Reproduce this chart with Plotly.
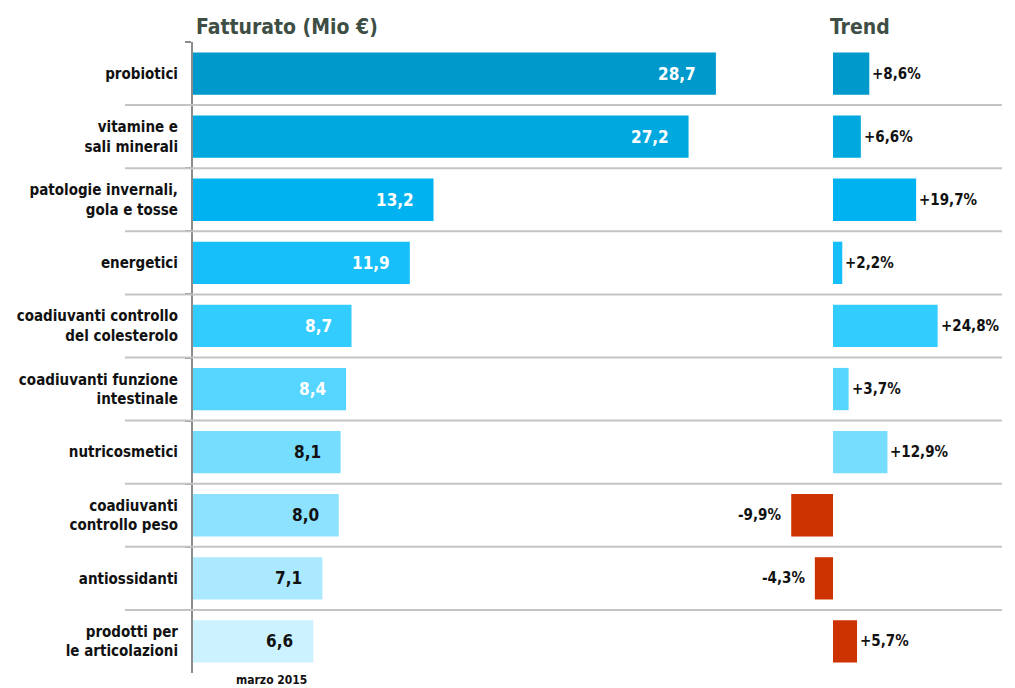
import plotly.graph_objects as go

categories = [
    "probiotici",
    "vitamine e<br>sali minerali",
    "patologie invernali,<br>gola e tosse",
    "energetici",
    "coadiuvanti controllo<br>del colesterolo",
    "coadiuvanti funzione<br>intestinale",
    "nutricosmetici",
    "coadiuvanti<br>controllo peso",
    "antiossidanti",
    "prodotti per<br>le articolazioni",
]
fatturato = [28.7, 27.2, 13.2, 11.9, 8.7, 8.4, 8.1, 8.0, 7.1, 6.6]
trend = [8.6, 6.6, 19.7, 2.2, 24.8, 3.7, 12.9, -9.9, -4.3, 5.7]

barColors = ['#0099CC', '#00A8E0', '#00B2F0', '#17BFFA', '#33CCFF',
             '#55D5FF', '#77DDFF', '#8CE2FF', '#AAE9FF', '#CCF2FF']
redColor = '#CC3300'
trendColors = barColors[:7] + [redColor] * 3
labelColors = ['white'] * 6 + ['#111111'] * 4

W, H = 1015, 688
OFF = 8  # page body margin
fontFam = "DejaVu Sans Condensed, Liberation Sans Narrow, Liberation Sans"
titleColor = '#3E4E44'

def px_x(p):
    return (p - OFF) / W

def px_y(p):
    return 1 - (p - OFF) / H

def fmt(v):
    return f"{v:.1f}".replace(".", ",")

def fmt_pct(v):
    return f"{v:+.1f}%".replace(".", ",")

fig = go.Figure()

fig.add_trace(go.Bar(
    y=categories, x=fatturato, orientation='h',
    marker=dict(color=barColors, line=dict(width=0)),
    width=0.67, xaxis='x', yaxis='y', hoverinfo='skip'
))
fig.add_trace(go.Bar(
    y=categories, x=trend, orientation='h',
    marker=dict(color=trendColors, line=dict(width=0)),
    width=0.67, xaxis='x2', yaxis='y', hoverinfo='skip'
))

# value labels inside the left bars
for cat, v, c in zip(categories, fatturato, labelColors):
    fig.add_annotation(x=v, y=cat, xref='x', yref='y', text=fmt(v),
                       showarrow=False, xanchor='right', xshift=-18,
                       font=dict(family=fontFam, size=17, color=c, weight='bold'))

# trend labels
for cat, v in zip(categories, trend):
    if v >= 0:
        fig.add_annotation(x=v, y=cat, xref='x2', yref='y', text=fmt_pct(v),
                           showarrow=False, xanchor='left', xshift=1,
                           font=dict(family=fontFam, size=15, color='#111111', weight='bold'))
    else:
        fig.add_annotation(x=v, y=cat, xref='x2', yref='y', text=fmt_pct(v),
                           showarrow=False, xanchor='right', xshift=-7,
                           font=dict(family=fontFam, size=15, color='#111111', weight='bold'))

yTop = px_y(42)
yBot = px_y(673)
n = len(categories)

# row separators
for i in range(1, n):
    yy = yTop - i * (yTop - yBot) / n
    fig.add_shape(type='line', xref='paper', yref='paper',
                  x0=px_x(125), x1=px_x(1002), y0=yy, y1=yy,
                  line=dict(color='#C4C4C4', width=2), layer='above')

fig.add_annotation(x=px_x(194), y=px_y(27), xref='paper', yref='paper',
                   text="Fatturato (Mio €)", showarrow=False,
                   xanchor='left', yanchor='middle',
                   font=dict(family=fontFam, size=21, color=titleColor, weight='bold'))
fig.add_annotation(x=px_x(828), y=px_y(27), xref='paper', yref='paper',
                   text="Trend", showarrow=False,
                   xanchor='left', yanchor='middle',
                   font=dict(family=fontFam, size=21, color=titleColor, weight='bold'))
fig.add_annotation(x=px_x(271), y=px_y(680), xref='paper', yref='paper',
                   text="marzo 2015", showarrow=False,
                   xanchor='center', yanchor='middle',
                   font=dict(family=fontFam, size=12, color='#111111', weight='bold'))

pxLeft = 18.22
pxTrend = 4.22
zeroTrend = 833
x1dom = [193, 790]
x2dom = [760, 1005]

fig.update_layout(
    width=W, height=H,
    margin=dict(l=0, r=0, t=0, b=0),
    plot_bgcolor='rgba(0,0,0,0)', paper_bgcolor='white',
    showlegend=False, barmode='overlay',
    xaxis=dict(domain=[px_x(x1dom[0]), px_x(x1dom[1])],
               range=[0, (x1dom[1] - x1dom[0]) / pxLeft],
               visible=False, fixedrange=True, automargin=False),
    xaxis2=dict(domain=[px_x(x2dom[0]), px_x(x2dom[1])],
                range=[-(zeroTrend - x2dom[0]) / pxTrend, (x2dom[1] - zeroTrend) / pxTrend],
                visible=False, fixedrange=True, automargin=False),
    yaxis=dict(domain=[yBot, yTop],
               autorange='reversed', type='category',
               showline=True, linecolor='#8C8C8C', linewidth=2,
               ticks='outside', tickson='boundaries', ticklen=6,
               tickcolor='#8C8C8C', tickwidth=2,
               showgrid=False, zeroline=False,
               ticklabelstandoff=10, automargin=False,
               tickfont=dict(family=fontFam, size=15, color='#111111', weight='bold'),
               fixedrange=True),
    font=dict(family=fontFam),
)

fig.write_html("out.html")
